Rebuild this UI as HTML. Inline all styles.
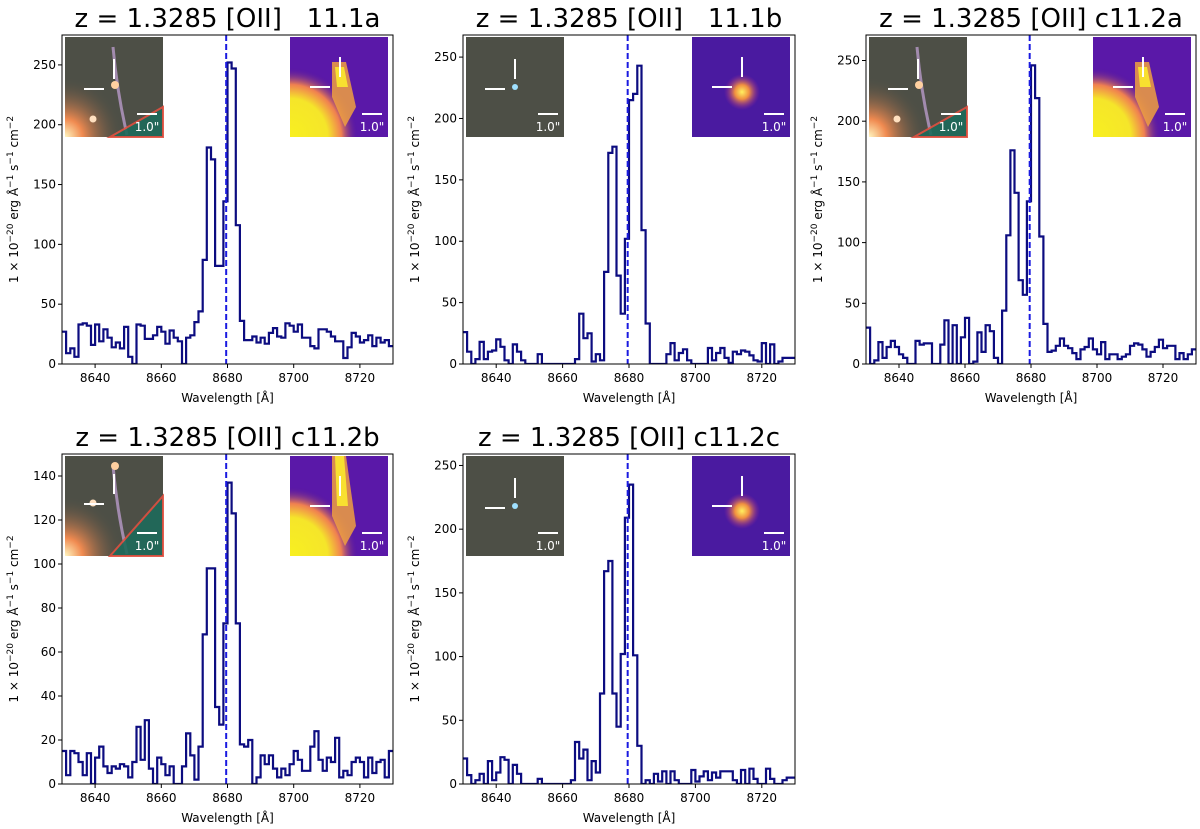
<!DOCTYPE html>
<html><head><meta charset="utf-8">
<style>
html,body{margin:0;padding:0;background:#fff;}
svg{display:block;font-family:"DejaVu Sans","Liberation Sans",sans-serif;}
text{white-space:pre;}
</style></head>
<body>
<svg id="fig" width="1200" height="829" viewBox="0 0 1200 829" xmlns="http://www.w3.org/2000/svg">
<defs>
<radialGradient id="glowL" cx="0" cy="1" r="0.6"><stop offset="0" stop-color="#fff6c0"/><stop offset="0.3" stop-color="#f08a50"/><stop offset="1" stop-color="#4b4d44" stop-opacity="0"/></radialGradient>
<radialGradient id="yel" cx="0" cy="1" r="0.7"><stop offset="0" stop-color="#f8f020"/><stop offset="0.55" stop-color="#f5e52a"/><stop offset="0.75" stop-color="#f08050"/><stop offset="1" stop-color="#4a10a0" stop-opacity="0"/></radialGradient>
<radialGradient id="spot" cx="0.5" cy="0.5" r="0.5"><stop offset="0" stop-color="#fff060"/><stop offset="0.4" stop-color="#f09040"/><stop offset="1" stop-color="#a02890" stop-opacity="0"/></radialGradient>
</defs>
</svg>
<script>
// ---- data ----
const wlStart = 8630;
const binWidth = 1.25;
const xTicks = [8640, 8660, 8680, 8700, 8720];
const lineCenter = 8679.6;
const titles = ["z = 1.3285 [OII]   11.1a","z = 1.3285 [OII]   11.1b","z = 1.3285 [OII] c11.2a","z = 1.3285 [OII] c11.2b","z = 1.3285 [OII] c11.2c"];
const flux_11_1a = [27,9,13,6,33,34,32,16,33,19,29,22,14,18,13,31,6,0,33,32,21,21,24,31,27,17,28,22,19,0,22,24,35,44,87,181,171,82,82,136,252,247,116,36,20,20,23,18,22,17,26,30,23,22,34,32,27,33,22,22,15,13,29,29,27,23,19,19,5,14,26,23,18,20,24,15,22,18,20,15];
const flux_11_1b = [26,10,0,4,18,4,10,11,20,14,3,0,16,10,3,0,0,0,8,0,0,0,0,0,0,0,0,4,41,21,25,2,8,3,75,172,177,72,41,102,215,220,243,109,33,0,0,0,0,8,17,3,9,12,3,0,0,0,0,13,3,9,13,5,1,10,8,11,10,7,3,2,17,0,16,0,2,5,5,5];
const flux_c11_2a = [30,0,3,18,5,14,19,14,8,5,0,0,19,16,17,17,0,0,16,36,0,32,0,22,38,0,2,26,10,32,27,5,0,44,106,176,141,69,57,134,246,219,105,33,10,11,15,21,15,13,9,4,12,14,21,12,8,18,4,8,8,4,6,8,15,17,16,12,6,10,14,20,13,15,15,4,9,4,8,12];
const flux_c11_2b = [15,4,15,14,10,4,14,0,12,17,8,5,8,7,9,8,3,10,26,11,29,7,0,12,9,4,8,0,0,8,23,13,2,17,68,98,98,35,27,73,137,123,73,18,17,20,0,3,13,9,13,7,3,7,4,9,15,11,6,6,17,24,11,6,12,10,21,3,6,4,10,12,10,3,12,5,10,11,3,15];
const flux_c11_2c = [20,7,0,3,8,0,18,3,9,21,19,0,15,8,0,0,0,0,4,0,0,0,0,0,0,0,3,33,20,27,3,18,9,71,167,175,71,45,102,209,235,101,30,0,3,0,8,2,10,0,10,3,0,0,0,11,2,6,10,3,9,5,10,10,10,3,0,11,0,12,4,0,0,12,4,0,0,3,5,5];
const yMaxes = [275, 268, 271, 150, 259];
const yTicks = [[0,50,100,150,200,250],[0,50,100,150,200,250],[0,50,100,150,200,250],[0,20,40,60,80,100,120,140],[0,50,100,150,200,250]];
const allFlux = [flux_11_1a, flux_11_1b, flux_c11_2a, flux_c11_2b, flux_c11_2c];
const insetStyle = ["arc","dot","arc","arc2","dot"];

// ---- layout ----
const boxes = [
 {l:62,r:393,t:35,b:364},{l:463,r:795,t:35,b:364},{l:866,r:1196,t:35,b:364},
 {l:62,r:393,t:454,b:784},{l:463,r:795,t:454,b:784}];
const NS="http://www.w3.org/2000/svg";
const svg=document.getElementById('fig');
function mk(tag,attrs,parent){const e=document.createElementNS(NS,tag);for(const k in attrs)e.setAttribute(k,attrs[k]);(parent||svg).appendChild(e);return e;}

function drawInsets(g,bx,style,idx){
  const y0=bx.t+2, w=98, h=100;
  const lx=bx.l+3, rx=bx.r-103;
  const L=mk('g',{},g);
  
  
  mk('rect',{x:lx,y:y0,width:w,height:h,fill:'#4d4f46'},L);
  if(style==='arc'||style==='arc2'){
    mk('rect',{x:lx,y:y0,width:w,height:h,fill:'url(#glowL)'},L);
    mk('path',{d:`M${lx+48} ${y0+10} Q${lx+52} ${y0+55} ${lx+62} ${y0+98}`,stroke:'#b89ac8',"stroke-width":3,fill:'none',opacity:0.8},L);
    mk('circle',{cx:lx+50,cy:y0+(style==='arc2'?10:48),r:4,fill:'#ffd0a0'},L);
    mk('circle',{cx:lx+28,cy:y0+(style==='arc2'?47:82),r:3.5,fill:'#ffe0c0'},L);
    mk('path',{d:`M${lx+45} ${y0+h} L${lx+w} ${y0+(style==='arc2'?40:70)} L${lx+w} ${y0+h} Z`,fill:'#1e6a5a',stroke:'#e05040',"stroke-width":2,opacity:0.9},L);
  } else {
    mk('circle',{cx:lx+49,cy:y0+50,r:3,fill:'#9fe0ff'},L);
  }
  const cx=lx+49, cy=y0+(style==='arc2'?48:52);
  mk('line',{x1:cx,y1:cy-30,x2:cx,y2:cy-10,stroke:'#fff',"stroke-width":2},L);
  mk('line',{x1:cx-30,y1:cy,x2:cx-10,y2:cy,stroke:'#fff',"stroke-width":2},L);
  mk('line',{x1:lx+72,y1:y0+77,x2:lx+92,y2:y0+77,stroke:'#fff',"stroke-width":2},L);
  const t1=mk('text',{x:lx+82,y:y0+94,"font-size":12,fill:'#fff',"text-anchor":'middle'},L);t1.textContent='1.0"';
  const R=mk('g',{},g);
  
  
  mk('rect',{x:rx,y:y0,width:w,height:h,fill:style==='dot'?'#4a1aa0':'#5a18a8'},R);
  if(style==='arc'||style==='arc2'){
    mk('rect',{x:rx,y:y0,width:w,height:h,fill:'url(#yel)'},R);
    mk('path',{d:`M${rx+42} ${y0+(style==='arc2'?0:25)} L${rx+56} ${y0+(style==='arc2'?0:25)} L${rx+66} ${y0+70} L${rx+55} ${y0+90} L${rx+42} ${y0+60} Z`,fill:'#f0a040',opacity:0.85},R);
    mk('path',{d:`M${rx+45} ${y0+(style==='arc2'?0:30)} L${rx+54} ${y0+(style==='arc2'?0:30)} L${rx+58} ${y0+50} L${rx+47} ${y0+50} Z`,fill:'#f8e030'},R);
  } else {
    mk('circle',{cx:rx+50,cy:y0+55,r:18,fill:'url(#spot)'},R);
  }
  const rcx=rx+50, rcy=y0+50;
  mk('line',{x1:rcx,y1:rcy-30,x2:rcx,y2:rcy-10,stroke:'#fff',"stroke-width":2},R);
  mk('line',{x1:rcx-30,y1:rcy,x2:rcx-10,y2:rcy,stroke:'#fff',"stroke-width":2},R);
  mk('line',{x1:rx+72,y1:y0+77,x2:rx+92,y2:y0+77,stroke:'#fff',"stroke-width":2},R);
  const t2=mk('text',{x:rx+82,y:y0+94,"font-size":12,fill:'#fff',"text-anchor":'middle'},R);t2.textContent='1.0"';
}

boxes.forEach((bx,i)=>{
  const g=mk('g',{});
  
  
  const xMin=8630,xMax=8730;
  const X=v=>bx.l+(v-xMin)/(xMax-xMin)*(bx.r-bx.l);
  const Y=v=>bx.b-v/yMaxes[i]*(bx.b-bx.t);
  const tt=mk('text',{x:(bx.l+bx.r)/2,y:bx.t-8,"font-size":26,"text-anchor":'middle',fill:'#000',"xml:space":'preserve'},g);
  tt.textContent=titles[i];
  
  
  const cp=mk('clipPath',{id:'clip'+i},g);
  mk('rect',{x:bx.l,y:bx.t,width:bx.r-bx.l,height:bx.b-bx.t},cp);
  const f=allFlux[i];
  let d='';
  f.forEach((v,k)=>{
    const x0=X(wlStart+binWidth*k), x1=X(wlStart+binWidth*(k+1)), y=Y(v);
    d+=(k===0?'M':'L')+x0.toFixed(1)+' '+y.toFixed(1)+' L'+x1.toFixed(1)+' '+y.toFixed(1)+' ';
  });
  const p=mk('path',{d:d,fill:'none',stroke:'#0c0c80',"stroke-width":2.2,"clip-path":`url(#clip${i})`},g);
  
  
  const dl=mk('line',{x1:X(lineCenter),x2:X(lineCenter),y1:bx.t,y2:bx.b,stroke:'#1a1ae0',"stroke-width":2,"stroke-dasharray":'6,3'},g);
  
  
  drawInsets(g,bx,insetStyle[i],i);
  const fr=mk('rect',{x:bx.l,y:bx.t,width:bx.r-bx.l,height:bx.b-bx.t,fill:'none',stroke:'#000',"stroke-width":1},g);
  
  
  xTicks.forEach(t=>{
    const x=X(t);
    mk('line',{x1:x,x2:x,y1:bx.b,y2:bx.b+4,stroke:'#000'},g);
    const tx=mk('text',{x:x,y:bx.b+18,"font-size":12,"text-anchor":'middle'},g);tx.textContent=t;
    
    
  });
  yTicks[i].forEach(t=>{
    const y=Y(t);
    mk('line',{x1:bx.l-4,x2:bx.l,y1:y,y2:y,stroke:'#000'},g);
    const ty=mk('text',{x:bx.l-6,y:y+4,"font-size":12,"text-anchor":'end'},g);ty.textContent=t;
    
    
  });
  const xl=mk('text',{x:(bx.l+bx.r)/2,y:bx.b+38,"font-size":12,"text-anchor":'middle'},g);
  xl.textContent='Wavelength [Å]';
  
  
  const yl=mk('text',{x:0,y:0,"font-size":12,"text-anchor":'middle',transform:`translate(${bx.l-44},${(bx.t+bx.b)/2}) rotate(-90)`},g);
  yl.innerHTML='1 × 10<tspan dy="-5" font-size="9">−20</tspan><tspan dy="5"> erg Å</tspan><tspan dy="-5" font-size="9">−1</tspan><tspan dy="5"> s</tspan><tspan dy="-5" font-size="9">−1</tspan><tspan dy="5"> cm</tspan><tspan dy="-5" font-size="9">−2</tspan>';
  
  
});
</script>
</body></html>
